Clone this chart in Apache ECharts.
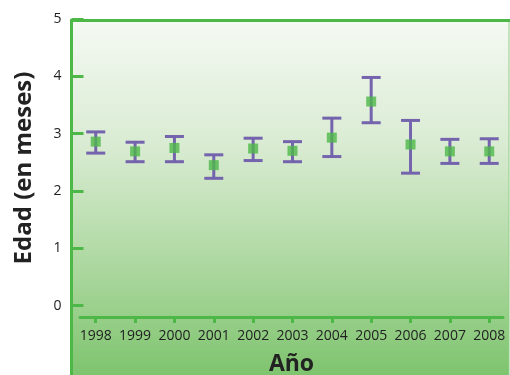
<!DOCTYPE html>
<html>
<head>
<meta charset="utf-8">
<script src="https://cdn.jsdelivr.net/npm/echarts@6/dist/echarts.min.js"></script>
<style>html,body{margin:0;padding:0;background:#fff}#c{width:510px;height:375px}</style>
</head>
<body>
<div id="c"></div>
<script>
const years = [1998, 1999, 2000, 2001, 2002, 2003, 2004, 2005, 2006, 2007, 2008];
const means = [2.86, 2.69, 2.75, 2.45, 2.74, 2.70, 2.93, 3.56, 2.81, 2.69, 2.69];
const upper = [3.03, 2.85, 2.95, 2.63, 2.92, 2.86, 3.27, 3.98, 3.23, 2.90, 2.91];
const lower = [2.66, 2.51, 2.51, 2.22, 2.53, 2.51, 2.60, 3.19, 2.31, 2.48, 2.48];
const yTicks = [0, 1, 2, 3, 4, 5];

const GREEN = '#4db848';
const PURPLE = '#7464ae';

const chart = echarts.init(document.getElementById('c'), null, {renderer: 'canvas'});
const errData = years.map((y, i) => [y, lower[i], upper[i]]);
const meanData = years.map((y, i) => [y, means[i]]);

chart.setOption({
  animation: false,
  graphic: [
    {
      type: 'rect', z: -10, silent: true,
      shape: {x: 71, y: 20, width: 438, height: 360},
      style: {
        fill: new echarts.graphic.LinearGradient(0, 0, 0, 1, [
          {offset: 0, color: '#f5f9f3'},
          {offset: 0.35, color: '#d9ebd2'},
          {offset: 0.7, color: '#aad79d'},
          {offset: 1, color: '#7cc36c'}
        ]),
        stroke: null
      }
    },
    {type: 'line', z: 5, silent: true, shape: {x1: 509, y1: 20, x2: 509, y2: 375}, style: {stroke: '#8fcc82', lineWidth: 1}},
    {type: 'line', z: 5, silent: true, shape: {x1: 70, y1: 20.5, x2: 510, y2: 20.5}, style: {stroke: GREEN, lineWidth: 3}},
    {type: 'line', z: 5, silent: true, shape: {x1: 71.5, y1: 19, x2: 71.5, y2: 375}, style: {stroke: GREEN, lineWidth: 3}}
  ],
  grid: {left: 80, right: 7, top: 19, bottom: 58, containLabel: false, outerBoundsMode: 'none'},
  xAxis: {
    type: 'value', min: 1997.6, max: 2008.35,
    splitLine: {show: false},
    axisLine: {show: true, onZero: false, lineStyle: {color: GREEN, width: 3}},
    axisTick: {show: true, customValues: years, length: 6, lineStyle: {color: GREEN, width: 3}},
    axisLabel: {customValues: years, formatter: v => String(v), color: '#222', fontSize: 14, fontFamily: 'Open Sans', margin: 12},
    name: 'Año', nameLocation: 'middle', nameGap: 36,
    nameTextStyle: {fontSize: 23, fontWeight: 'bold', color: '#222', fontFamily: 'Open Sans'}
  },
  yAxis: {
    type: 'value', min: -0.2, max: 5, offset: 8.5,
    splitLine: {show: false},
    axisLine: {show: false},
    axisTick: {show: true, inside: true, customValues: yTicks, length: 12, lineStyle: {color: GREEN, width: 3}},
    axisLabel: {customValues: yTicks, color: '#222', fontSize: 14, fontFamily: 'Open Sans', margin: 10},
    name: 'Edad (en meses)', nameLocation: 'middle', nameGap: 35,
    nameTextStyle: {fontSize: 24, fontWeight: 'bold', color: '#222', fontFamily: 'Open Sans'}
  },
  series: [
    {
      type: 'custom',
      data: errData,
      z: 3,
      renderItem: function (params, api) {
        const x = api.value(0);
        const lo = api.coord([x, api.value(1)]);
        const hi = api.coord([x, api.value(2)]);
        const hw = 9.5;
        const st = {stroke: PURPLE, lineWidth: 3};
        return {
          type: 'group',
          children: [
            {type: 'line', shape: {x1: hi[0], y1: hi[1], x2: lo[0], y2: lo[1]}, style: st},
            {type: 'line', shape: {x1: hi[0] - hw, y1: hi[1], x2: hi[0] + hw, y2: hi[1]}, style: st},
            {type: 'line', shape: {x1: lo[0] - hw, y1: lo[1], x2: lo[0] + hw, y2: lo[1]}, style: st}
          ]
        };
      }
    },
    {
      type: 'scatter',
      data: meanData,
      z: 4,
      symbol: 'rect',
      symbolSize: 10,
      itemStyle: {color: GREEN}
    }
  ]
});
</script>
</body>
</html>
